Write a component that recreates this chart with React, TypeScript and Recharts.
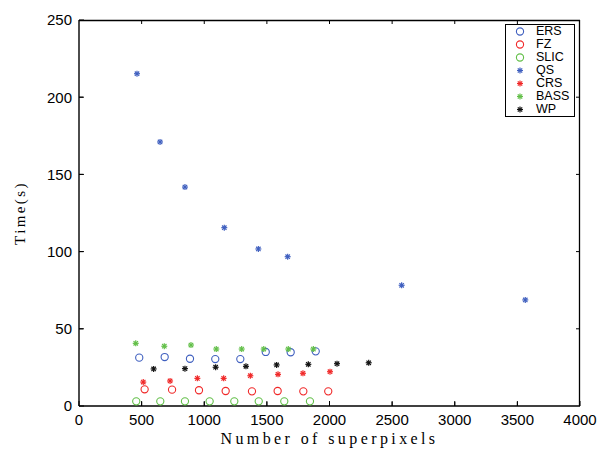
import React from 'react';
import { ScatterChart, Scatter, XAxis, YAxis } from 'recharts';

const xTicks = [0, 500, 1000, 1500, 2000, 2500, 3000, 3500, 4000];
const yTicks = [0, 50, 100, 150, 200, 250];

const ersX = [481, 684, 886, 1088, 1288, 1491, 1690, 1890];
const ersY = [31.3, 31.7, 30.6, 30.4, 30.4, 35, 34.8, 35.4];

const fzX = [524, 743, 958, 1171, 1381, 1586, 1791, 1990];
const fzY = [10.8, 10.6, 10.2, 9.7, 9.5, 9.7, 9.5, 9.5];

const slicX = [457, 649, 846, 1043, 1240, 1435, 1639, 1844];
const slicY = [3, 3, 3, 3, 3, 3, 3, 3];

const qsX = [463, 647, 846, 1160, 1432, 1666, 2576, 3563];
const qsY = [215.2, 171, 141.8, 115.5, 101.7, 96.7, 78.2, 68.7];

const crsX = [513, 727, 945, 1155, 1368, 1589, 1788, 2004];
const crsY = [15.5, 16.2, 17.9, 17.9, 19.6, 20.5, 21.2, 22.2];

const bassX = [453, 681, 894, 1096, 1299, 1475, 1671, 1871];
const bassY = [40.6, 38.7, 39.5, 36.9, 36.9, 36.9, 36.9, 36.9];

const wpX = [596, 846, 1091, 1333, 1578, 1831, 2060, 2313];
const wpY = [24, 24.2, 25.1, 25.7, 26.6, 27, 27.4, 28];

const X_MAX = 4000;
const Y_MAX = 250;

const BLUE = '#3f5fbf';
const RED = '#f02828';
const GREEN = '#62bf48';
const BLACK = '#111111';

// chart box
const W = 610;
const H = 454;
const M = { top: 20, right: 30, bottom: 18, left: 0 };
const Y_AXIS_W = 79;
const X_AXIS_H = 30;
const PLOT_TOP = M.top;
const PLOT_RIGHT = W - M.right;
const PLOT_LEFT = M.left + Y_AXIS_W;
const PLOT_BOTTOM = H - M.bottom - X_AXIS_H;

const toPoints = (xs: number[], ys: number[]) => xs.map((x, i) => ({ x, y: ys[i] }));

const series = [
  { name: 'ERS', data: toPoints(ersX, ersY), color: BLUE, kind: 'circle' },
  { name: 'FZ', data: toPoints(fzX, fzY), color: RED, kind: 'circle' },
  { name: 'SLIC', data: toPoints(slicX, slicY), color: GREEN, kind: 'circle' },
  { name: 'QS', data: toPoints(qsX, qsY), color: BLUE, kind: 'star' },
  { name: 'CRS', data: toPoints(crsX, crsY), color: RED, kind: 'star' },
  { name: 'BASS', data: toPoints(bassX, bassY), color: GREEN, kind: 'star' },
  { name: 'WP', data: toPoints(wpX, wpY), color: BLACK, kind: 'star' },
];

const Marker = ({ cx, cy, color, kind }: { cx: number; cy: number; color: string; kind: string }) => {
  if (kind === 'circle') {
    return <circle cx={cx} cy={cy} r={3.6} fill="none" stroke={color} strokeWidth={1.1} />;
  }
  const s = 3;
  const d = 2.2;
  return (
    <g stroke={color} strokeWidth={1.2}>
      <line x1={cx - s} y1={cy} x2={cx + s} y2={cy} />
      <line x1={cx} y1={cy - s} x2={cx} y2={cy + s} />
      <line x1={cx - d} y1={cy - d} x2={cx + d} y2={cy + d} />
      <line x1={cx - d} y1={cy + d} x2={cx + d} y2={cy - d} />
    </g>
  );
};

const LegendBox = () => (
  <div
    style={{
      position: 'absolute',
      left: 505,
      top: 24,
      border: '1px solid #000',
      background: '#fff',
      width: 68,
      padding: 0,
      fontFamily: '"Liberation Sans", Arial, sans-serif',
      fontSize: 12.5,
      lineHeight: '13px',
    }}
  >
    {series.map((s) => (
      <div key={s.name} style={{ display: 'flex', alignItems: 'center', height: 13 }}>
        <svg width={30} height={13}>
          <Marker cx={14} cy={6.5} color={s.color} kind={s.kind} />
        </svg>
        <span style={{ color: '#000' }}>{s.name}</span>
      </div>
    ))}
  </div>
);

// matlab-style box: top/right edges and inward ticks on all four sides
const Frame = () => {
  const px = (v: number) => PLOT_LEFT + (v / X_MAX) * (PLOT_RIGHT - PLOT_LEFT);
  const py = (v: number) => PLOT_BOTTOM - (v / Y_MAX) * (PLOT_BOTTOM - PLOT_TOP);
  const inner = (arr: number[]) => arr.slice(1, -1);
  return (
    <svg
      width={W}
      height={H}
      style={{ position: 'absolute', left: 0, top: 0, pointerEvents: 'none' }}
    >
      <g stroke="#000" strokeWidth={1}>
        <line x1={PLOT_LEFT} y1={PLOT_TOP + 0.5} x2={PLOT_RIGHT} y2={PLOT_TOP + 0.5} strokeWidth={1.3} />
        <line x1={PLOT_RIGHT - 0.5} y1={PLOT_TOP} x2={PLOT_RIGHT - 0.5} y2={PLOT_BOTTOM} strokeWidth={1.3} />
        {inner(xTicks).map((t) => (
          <g key={'x' + t}>
            <line x1={px(t)} y1={PLOT_TOP} x2={px(t)} y2={PLOT_TOP + 4} />
            <line x1={px(t)} y1={PLOT_BOTTOM} x2={px(t)} y2={PLOT_BOTTOM - 4} />
          </g>
        ))}
        {inner(yTicks).map((t) => (
          <g key={'y' + t}>
            <line x1={PLOT_RIGHT} y1={py(t)} x2={PLOT_RIGHT - 4} y2={py(t)} />
            <line x1={PLOT_LEFT} y1={py(t)} x2={PLOT_LEFT + 4} y2={py(t)} />
          </g>
        ))}
      </g>
    </svg>
  );
};

const tickStyle = { fill: '#000', fontSize: 15, fontFamily: '"Liberation Sans", Arial, sans-serif' };

const App: React.FC = () => {
  return (
    <div style={{ position: 'absolute', left: 0, top: 0, width: W, height: H, background: '#fff' }}>
      <ScatterChart width={W} height={H} margin={M}>
        <XAxis
          type="number"
          dataKey="x"
          domain={[0, X_MAX]}
          ticks={xTicks}
          interval={0}
          height={X_AXIS_H}
          tickSize={-5}
          tickMargin={13}
          tick={tickStyle}
          axisLine={{ stroke: '#000', strokeWidth: 1.4 }}
          tickLine={{ stroke: '#000' }}
          label={{
            value: 'Number of superpixels',
            position: 'bottom',
            offset: -3,
            style: { fill: '#000', fontSize: 16, fontFamily: '"Liberation Serif", serif', letterSpacing: 3.4 },
          }}
        />
        <YAxis
          type="number"
          dataKey="y"
          domain={[0, Y_MAX]}
          ticks={yTicks}
          interval={0}
          width={Y_AXIS_W}
          tickSize={-5}
          tickMargin={12}
          tick={tickStyle}
          axisLine={{ stroke: '#000', strokeWidth: 1.4 }}
          tickLine={{ stroke: '#000' }}
          label={{
            value: 'Time(s)',
            angle: -90,
            position: 'insideLeft',
            offset: 20,
            style: { fill: '#000', fontSize: 15, fontFamily: '"Liberation Serif", serif', letterSpacing: 2.4, textAnchor: 'middle' },
          }}
        />
        {series.map((s) => (
          <Scatter
            key={s.name}
            name={s.name}
            data={s.data}
            fill={s.color}
            isAnimationActive={false}
            shape={(p: any) => <Marker cx={p.cx} cy={p.cy} color={s.color} kind={s.kind} />}
          />
        ))}
      </ScatterChart>
      <Frame />
      <LegendBox />
    </div>
  );
};

export default App;
